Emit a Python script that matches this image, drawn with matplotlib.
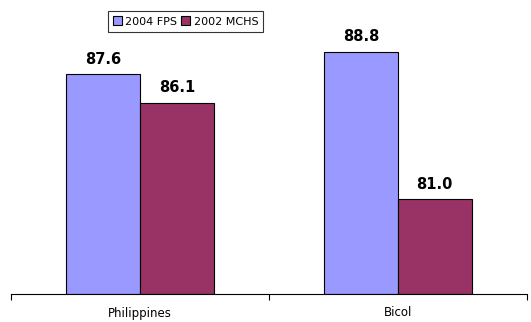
"""
Grouped bar chart: 2004 FPS vs 2002 MCHS, Philippines and Bicol.
"""
import numpy as np
import matplotlib.pyplot as plt

categories = ['Philippines', 'Bicol']
series_names = ['2004 FPS', '2002 MCHS']
fps_2004 = [87.6, 88.8]
mchs_2002 = [86.1, 81.0]
colors = ['#9999FF', '#993366']

fig = plt.figure(figsize=(5.31, 3.22), dpi=100)
ax = fig.add_axes([11 / 531, 28 / 322, 516 / 531, 284 / 322])

x = np.arange(len(categories))
width = 0.285
ymin = 76

for i, (vals, name, col) in enumerate(zip([fps_2004, mchs_2002], series_names, colors)):
    pos = x + (i - 0.5) * width
    heights = np.array(vals) - ymin
    ax.bar(pos, heights, width, bottom=ymin, color=col,
           edgecolor='black', linewidth=0.8, label=name)
    for xp, v in zip(pos, vals):
        ax.annotate(f'{v:.1f}', (xp, v), xytext=(0, 5.5), textcoords='offset points',
                    ha='center', va='bottom', fontsize=10.5, fontweight='bold')

ax.set_xlim(-0.5, 1.5)
ax.set_ylim(ymin, 91)

# only the category axis is shown, ticks sit between the groups
for s in ['left', 'right', 'top']:
    ax.spines[s].set_visible(False)
ax.spines['bottom'].set_linewidth(0.8)
ax.set_yticks([])
ax.set_xticks(x)
ax.set_xticklabels(categories, fontsize=8.5)
ax.tick_params(axis='x', which='major', length=0, pad=9)
ax.set_xticks([-0.5, 0.5, 1.5], minor=True)
ax.tick_params(axis='x', which='minor', length=4, width=0.8, direction='out')

leg = fig.legend(loc='center', bbox_to_anchor=(185.5 / 531, 1 - 21.5 / 322),
                 ncol=2, fontsize=8, frameon=True, fancybox=False,
                 handlelength=0.8, handleheight=0.8, handletextpad=0.3,
                 columnspacing=0.4, borderpad=0.45, borderaxespad=0)
leg.get_frame().set_edgecolor('black')
leg.get_frame().set_linewidth(0.8)

fig.savefig('out.png', dpi=100)
